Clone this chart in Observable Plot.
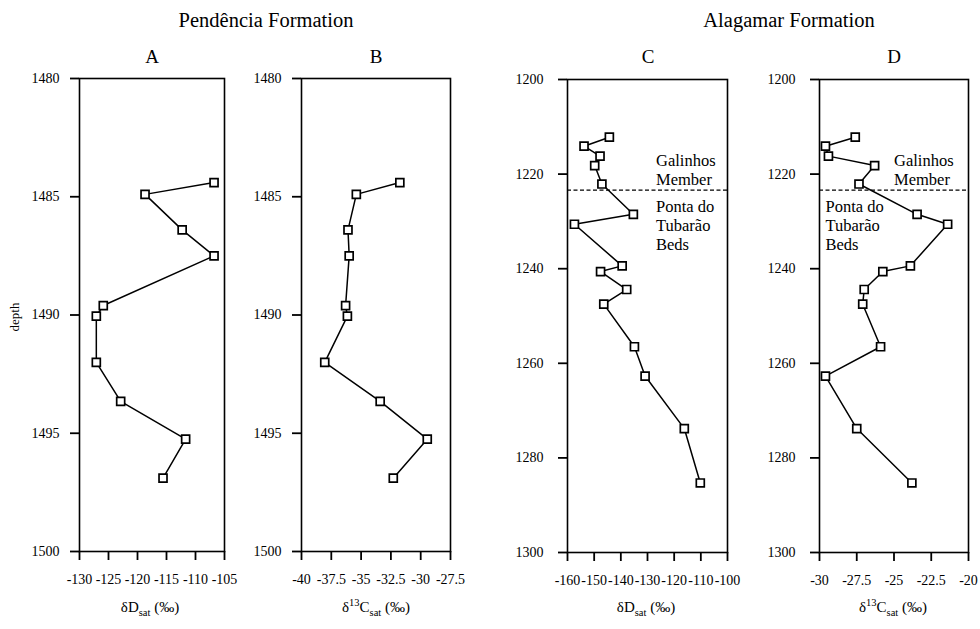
<!DOCTYPE html>
<html><head><meta charset="utf-8">
<script src="https://cdn.jsdelivr.net/npm/d3@7"></script>
<script src="https://cdn.jsdelivr.net/npm/@observablehq/plot@0.6"></script>
<style>
body{margin:0;background:#fff;}
#chart{position:relative;width:980px;height:629px;overflow:hidden;background:#fff;}
#chart svg{position:absolute;left:0;top:0;}
</style></head><body><div id="chart"></div>
<script>
// ---- data ----
const depthsAB = [1484.4, 1484.9, 1486.4, 1487.5, 1489.6, 1490.05, 1492.0, 1493.65, 1495.25, 1496.9];
const dDsatA   = [-106.8, -118.7, -112.3, -106.8, -125.9, -127.1, -127.1, -122.9, -111.7, -115.6];
const d13CsatB = [-31.75, -35.4, -36.1, -36.0, -36.3, -36.15, -38.05, -33.4, -29.45, -32.3];

const depthsCD = [1212.2, 1214.1, 1216.2, 1218.2, 1222.1, 1228.5, 1230.6, 1239.4, 1240.6, 1244.4, 1247.5, 1256.5, 1262.7, 1273.8, 1285.3];
const dDsatC   = [-144.3, -153.8, -147.8, -149.8, -147.1, -135.3, -157.4, -139.5, -147.6, -137.8, -146.4, -134.9, -130.9, -116.2, -110.2];
const d13CsatD = [-27.6, -29.6, -29.4, -26.3, -27.35, -23.45, -21.4, -23.9, -25.75, -27.0, -27.1, -25.9, -29.6, -27.5, -23.8];

const depthTicksAB = [1480, 1485, 1490, 1495, 1500];
const depthTicksCD = [1200, 1220, 1240, 1260, 1280, 1300];
const xTicksA = [-130, -125, -120, -115, -110, -105];
const xTicksB = [-40, -37.5, -35, -32.5, -30, -27.5];
const xTicksC = [-160, -150, -140, -130, -120, -110, -100];
const xTicksD = [-30, -27.5, -25, -22.5, -20];

const boundaryDepth = 1223.4;
const formationTitles = ["Pendência Formation", "Alagamar Formation"];
const panelLetters = ["A", "B", "C", "D"];
const upperUnit = "Galinhos\nMember";
const lowerUnit = "Ponta do\nTubarão\nBeds";
// label x positions (data units) of the unit names in panels C and D
const unitLabelXC = [-126.8, -126.8];
const unitLabelXD = [-25.0, -29.6];

const FONT = "'Liberation Serif', 'Times New Roman', Times, serif";

function panel({values, depths, xTicks, yTicks, ml, mr, mt, mb, yPad, unitX}) {
  const data = values.map((v, i) => ({v, depth: depths[i]}));
  const marks = [
    Plot.frame({stroke: "#000", strokeWidth: 1.6}),
    Plot.axisY({ticks: yTicks, tickSize: 9, tickPadding: yPad, tickFormat: d => String(d),
      fontSize: 14, label: null, strokeWidth: 1.8}),
    Plot.axisX({ticks: xTicks, tickSize: 9, tickPadding: 14, tickFormat: d => String(d),
      fontSize: 14, label: null, strokeWidth: 1.8}),
  ];
  if (unitX) {
    marks.push(
      Plot.ruleY([boundaryDepth], {stroke: "#000", strokeWidth: 1.2, strokeDasharray: "4,2.5"}),
      Plot.text([{x: unitX[0], depth: boundaryDepth, t: upperUnit}],
        {x: "x", y: "depth", text: "t", textAnchor: "start", lineAnchor: "bottom",
         lineHeight: 1.15, fontSize: 16.5, dy: -5, fill: "#000"}),
      Plot.text([{x: unitX[1], depth: boundaryDepth, t: lowerUnit}],
        {x: "x", y: "depth", text: "t", textAnchor: "start", lineAnchor: "top",
         lineHeight: 1.15, fontSize: 16.5, dy: 8, fill: "#000"})
    );
  }
  marks.push(
    Plot.line(data, {x: "v", y: "depth", stroke: "#000", strokeWidth: 1.5}),
    Plot.dot(data, {x: "v", y: "depth", symbol: "square", r: 4.5, fill: "#fff", stroke: "#000", strokeWidth: 1.7})
  );
  return Plot.plot({
    width: 980, height: 629,
    marginLeft: ml, marginRight: mr, marginTop: mt, marginBottom: mb,
    x: {domain: [xTicks[0], xTicks[xTicks.length - 1]]},
    y: {domain: [yTicks[0], yTicks[yTicks.length - 1]], reverse: true},
    style: `background: transparent; font: 14px ${FONT}; color: #000; overflow: visible;`,
    marks
  });
}

const chart = document.getElementById("chart");
chart.append(panel({values: dDsatA, depths: depthsAB, xTicks: xTicksA, yTicks: depthTicksAB,
  ml: 79, mr: 980 - 224, mt: 78, mb: 629 - 551, yPad: 11}));
chart.append(panel({values: d13CsatB, depths: depthsAB, xTicks: xTicksB, yTicks: depthTicksAB,
  ml: 301, mr: 980 - 450, mt: 78, mb: 629 - 551, yPad: 11}));
chart.append(panel({values: dDsatC, depths: depthsCD, xTicks: xTicksC, yTicks: depthTicksCD,
  ml: 567, mr: 980 - 727, mt: 79, mb: 629 - 552, yPad: 15, unitX: unitLabelXC}));
chart.append(panel({values: d13CsatD, depths: depthsCD, xTicks: xTicksD, yTicks: depthTicksCD,
  ml: 819, mr: 980 - 968, mt: 79, mb: 629 - 552, yPad: 15, unitX: unitLabelXD}));

// ---- text overlay: titles, panel letters, axis labels ----
const svg = d3.create("svg").attr("width", 980).attr("height", 629)
  .style("font-family", FONT).style("fill", "#000");
const titleX = [266, 789];
formationTitles.forEach((t, i) => svg.append("text").attr("x", titleX[i]).attr("y", 27)
  .attr("text-anchor", "middle").attr("font-size", 20.5).text(t));
const letterX = [152, 376, 648, 894];
panelLetters.forEach((t, i) => svg.append("text").attr("x", letterX[i]).attr("y", 63)
  .attr("text-anchor", "middle").attr("font-size", 19).text(t));
svg.append("text").attr("transform", "translate(19,317) rotate(-90)")
  .attr("text-anchor", "middle").attr("font-size", 13).text("depth");

function xLabel(x, isCarbon) {
  const t = svg.append("text").attr("x", x).attr("y", 612).attr("text-anchor", "middle").attr("font-size", 15);
  t.append("tspan").text("δ");
  if (isCarbon) t.append("tspan").attr("font-size", 10.5).attr("dy", -6).text("13");
  t.append("tspan").attr("dy", isCarbon ? 6 : 0).text(isCarbon ? "C" : "D");
  t.append("tspan").attr("font-size", 10.5).attr("dy", 3.5).text("sat");
  t.append("tspan").attr("dy", -3.5).text(" (‰)");
}
xLabel(150, false);
xLabel(376, true);
xLabel(646, false);
xLabel(893, true);
chart.append(svg.node());
</script>
</body></html>
